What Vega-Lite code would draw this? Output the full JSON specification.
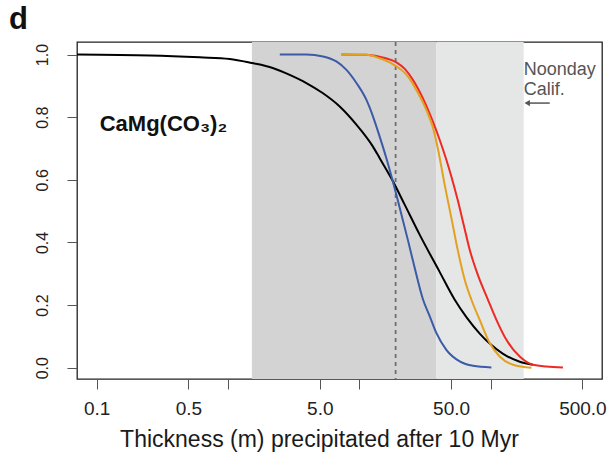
{
  "$schema": "https://vega.github.io/schema/vega-lite/v6.json",
  "width": 525,
  "height": 337,
  "autosize": {"type": "none"},
  "padding": {"left": 77, "top": 42, "right": 9, "bottom": 75},
  "background": "white",
  "config": {"font": "Liberation Sans", "view": {"stroke": "#222", "strokeWidth": 1.3}},
  "title": {"text": "d", "anchor": "start", "frame": "group", "fontSize": 31, "fontWeight": "bold", "color": "#111", "baseline": "alphabetic", "offset": 12, "dx": -68, "dy": 31},
  "datasets": {
    "bands": [
      {"a": 1.52, "b": 38.6, "zone": "dark"},
      {"a": 38.6, "b": 178.6, "zone": "light"}
    ],
    "curves": [
      {"s": "black", "x": 0.0708, "v": 1.0},
      {"s": "black", "x": 0.254, "v": 0.997},
      {"s": "black", "x": 0.609, "v": 0.991},
      {"s": "black", "x": 1.03, "v": 0.986},
      {"s": "black", "x": 1.516, "v": 0.973},
      {"s": "black", "x": 2.19, "v": 0.957},
      {"s": "black", "x": 2.95, "v": 0.935},
      {"s": "black", "x": 3.95, "v": 0.909},
      {"s": "black", "x": 5.26, "v": 0.877},
      {"s": "black", "x": 7.09, "v": 0.834},
      {"s": "black", "x": 9.5, "v": 0.776},
      {"s": "black", "x": 12.7, "v": 0.706},
      {"s": "black", "x": 14.3, "v": 0.669},
      {"s": "black", "x": 17.95, "v": 0.597},
      {"s": "black", "x": 22.2, "v": 0.52},
      {"s": "black", "x": 28.8, "v": 0.425},
      {"s": "black", "x": 40.9, "v": 0.306},
      {"s": "black", "x": 53.3, "v": 0.217},
      {"s": "black", "x": 65.8, "v": 0.16},
      {"s": "black", "x": 82.6, "v": 0.109},
      {"s": "black", "x": 98.4, "v": 0.077},
      {"s": "black", "x": 123.6, "v": 0.045},
      {"s": "black", "x": 166.6, "v": 0.019},
      {"s": "black", "x": 209.6, "v": 0.0096},
      {"s": "blue", "x": 2.48, "v": 1.0},
      {"s": "blue", "x": 3.95, "v": 1.0},
      {"s": "blue", "x": 5.29, "v": 0.994},
      {"s": "blue", "x": 6.69, "v": 0.978},
      {"s": "blue", "x": 7.98, "v": 0.951},
      {"s": "blue", "x": 9.51, "v": 0.909},
      {"s": "blue", "x": 11.33, "v": 0.855},
      {"s": "blue", "x": 12.72, "v": 0.802},
      {"s": "blue", "x": 14.29, "v": 0.738},
      {"s": "blue", "x": 16.07, "v": 0.669},
      {"s": "blue", "x": 17.95, "v": 0.597},
      {"s": "blue", "x": 20.3, "v": 0.511},
      {"s": "blue", "x": 23.4, "v": 0.409},
      {"s": "blue", "x": 26.4, "v": 0.319},
      {"s": "blue", "x": 30.6, "v": 0.217},
      {"s": "blue", "x": 34.4, "v": 0.164},
      {"s": "blue", "x": 38.6, "v": 0.111},
      {"s": "blue", "x": 46.0, "v": 0.057},
      {"s": "blue", "x": 58.2, "v": 0.02},
      {"s": "blue", "x": 73.5, "v": 0.006},
      {"s": "blue", "x": 101.4, "v": 0.001},
      {"s": "red", "x": 7.31, "v": 1.0},
      {"s": "red", "x": 11.33, "v": 0.999},
      {"s": "red", "x": 15.62, "v": 0.989},
      {"s": "red", "x": 19.17, "v": 0.975},
      {"s": "red", "x": 22.2, "v": 0.954},
      {"s": "red", "x": 25.6, "v": 0.919},
      {"s": "red", "x": 28.8, "v": 0.881},
      {"s": "red", "x": 32.4, "v": 0.836},
      {"s": "red", "x": 36.4, "v": 0.785},
      {"s": "red", "x": 40.9, "v": 0.728},
      {"s": "red", "x": 46.0, "v": 0.664},
      {"s": "red", "x": 50.6, "v": 0.606},
      {"s": "red", "x": 56.1, "v": 0.536},
      {"s": "red", "x": 62.4, "v": 0.456},
      {"s": "red", "x": 69.3, "v": 0.377},
      {"s": "red", "x": 79.8, "v": 0.297},
      {"s": "red", "x": 95.5, "v": 0.217},
      {"s": "red", "x": 110.7, "v": 0.153},
      {"s": "red", "x": 131.9, "v": 0.089},
      {"s": "red", "x": 166.6, "v": 0.036},
      {"s": "red", "x": 210.4, "v": 0.0096},
      {"s": "red", "x": 266, "v": 0.004},
      {"s": "red", "x": 355.6, "v": 0.001},
      {"s": "orange", "x": 7.31, "v": 1.0},
      {"s": "orange", "x": 11.33, "v": 0.999},
      {"s": "orange", "x": 14.29, "v": 0.988},
      {"s": "orange", "x": 17.04, "v": 0.975},
      {"s": "orange", "x": 19.17, "v": 0.962},
      {"s": "orange", "x": 22.85, "v": 0.936},
      {"s": "orange", "x": 27.2, "v": 0.887},
      {"s": "orange", "x": 32.4, "v": 0.823},
      {"s": "orange", "x": 36.4, "v": 0.766},
      {"s": "orange", "x": 39.8, "v": 0.696},
      {"s": "orange", "x": 44.7, "v": 0.584},
      {"s": "orange", "x": 50.6, "v": 0.472},
      {"s": "orange", "x": 56.1, "v": 0.377},
      {"s": "orange", "x": 63.5, "v": 0.281},
      {"s": "orange", "x": 71.4, "v": 0.217},
      {"s": "orange", "x": 82.6, "v": 0.153},
      {"s": "orange", "x": 98.4, "v": 0.079},
      {"s": "orange", "x": 117.2, "v": 0.036},
      {"s": "orange", "x": 148.2, "v": 0.0096},
      {"s": "orange", "x": 204.6, "v": 0.0}
    ]
  },
  "layer": [
    {
      "data": {"name": "bands"},
      "transform": [{"filter": "datum.zone == 'dark'"}],
      "mark": {"type": "rect", "color": "#d3d3d3"},
      "encoding": {
        "x": {
          "field": "a", "type": "quantitative",
          "scale": {"type": "log", "domain": [0.0708, 705], "nice": false},
          "axis": {
            "values": [0.1, 0.5, 1, 5, 10, 50, 100, 500],
            "labelExpr": "(datum.value == 1 || datum.value == 10 || datum.value == 100) ? '' : format(datum.value, '.1f')",
            "labelFontSize": 19, "labelPadding": 10, "labelColor": "#222",
            "labelFlush": false, "labelOverlap": false,
            "tickSize": 10, "tickColor": "#555", "domain": false, "grid": false,
            "title": "Thickness (m) precipitated after 10 Myr",
            "titleFontSize": 23, "titleFontWeight": "normal", "titleColor": "#1a1a1a",
            "titleX": 242, "titleY": 67, "titleBaseline": "alphabetic"
          }
        },
        "x2": {"field": "b"}
      }
    },
    {
      "data": {"name": "bands"},
      "transform": [{"filter": "datum.zone == 'light'"}],
      "mark": {"type": "rect", "color": "#e5e6e6"},
      "encoding": {
        "x": {"field": "a", "type": "quantitative"},
        "x2": {"field": "b"}
      }
    },
    {
      "data": {"values": [{"x": 18.9}]},
      "mark": {"type": "rule", "color": "#6f6f6f", "strokeWidth": 1.8, "strokeDash": [4, 4]},
      "encoding": {"x": {"field": "x", "type": "quantitative"}}
    },
    {
      "data": {"name": "curves"},
      "transform": [{"filter": "datum.s == 'black'"}],
      "mark": {"type": "line", "color": "#000", "strokeWidth": 2, "interpolate": "monotone", "clip": true},
      "encoding": {
        "x": {"field": "x", "type": "quantitative"},
        "y": {
          "field": "v", "type": "quantitative",
          "scale": {"domain": [-0.036, 1.04], "nice": false, "zero": false},
          "axis": {
            "values": [0, 0.2, 0.4, 0.6, 0.8, 1], "format": ".1f",
            "labelAngle": 270, "labelAlign": "center", "labelBaseline": "bottom",
            "labelPadding": 17, "labelFontSize": 16, "labelColor": "#222",
            "tickSize": 10, "tickColor": "#555", "domain": false, "grid": false, "title": null
          }
        }
      }
    },
    {
      "data": {"name": "curves"},
      "transform": [{"filter": "datum.s == 'red'"}],
      "mark": {"type": "line", "color": "#ee2a24", "strokeWidth": 2, "interpolate": "monotone", "clip": true},
      "encoding": {
        "x": {"field": "x", "type": "quantitative"},
        "y": {"field": "v", "type": "quantitative"}
      }
    },
    {
      "data": {"name": "curves"},
      "transform": [{"filter": "datum.s == 'orange'"}],
      "mark": {"type": "line", "color": "#e3a11f", "strokeWidth": 2, "interpolate": "monotone", "clip": true},
      "encoding": {
        "x": {"field": "x", "type": "quantitative"},
        "y": {"field": "v", "type": "quantitative"}
      }
    },
    {
      "data": {"name": "curves"},
      "transform": [{"filter": "datum.s == 'blue'"}],
      "mark": {"type": "line", "color": "#3b5ba9", "strokeWidth": 2, "interpolate": "monotone", "clip": true},
      "encoding": {
        "x": {"field": "x", "type": "quantitative"},
        "y": {"field": "v", "type": "quantitative"}
      }
    },
    {
      "data": {"values": [{"x": 0.1054, "v": 0.756, "t": "CaMg(CO₃)₂"}]},
      "mark": {"type": "text", "align": "left", "baseline": "alphabetic", "fontSize": 22, "fontWeight": "bold", "color": "#111"},
      "encoding": {
        "x": {"field": "x", "type": "quantitative"},
        "y": {"field": "v", "type": "quantitative"},
        "text": {"field": "t"}
      }
    },
    {
      "data": {"values": [{"x": 178.6, "v": 0.935, "t": "Noonday"}, {"x": 178.6, "v": 0.871, "t": "Calif."}]},
      "mark": {"type": "text", "align": "left", "baseline": "alphabetic", "fontSize": 18, "color": "#555"},
      "encoding": {
        "x": {"field": "x", "type": "quantitative"},
        "y": {"field": "v", "type": "quantitative"},
        "text": {"field": "t"}
      }
    },
    {
      "data": {"values": [{"x": 190, "x2": 282, "v": 0.845}]},
      "mark": {"type": "rule", "color": "#555", "strokeWidth": 1.5},
      "encoding": {
        "x": {"field": "x", "type": "quantitative"},
        "x2": {"field": "x2"},
        "y": {"field": "v", "type": "quantitative"}
      }
    },
    {
      "data": {"values": [{"x": 190, "v": 0.845}]},
      "mark": {"type": "point", "shape": "triangle-left", "filled": true, "color": "#555", "size": 40, "opacity": 1},
      "encoding": {
        "x": {"field": "x", "type": "quantitative"},
        "y": {"field": "v", "type": "quantitative"}
      }
    }
  ]
}
